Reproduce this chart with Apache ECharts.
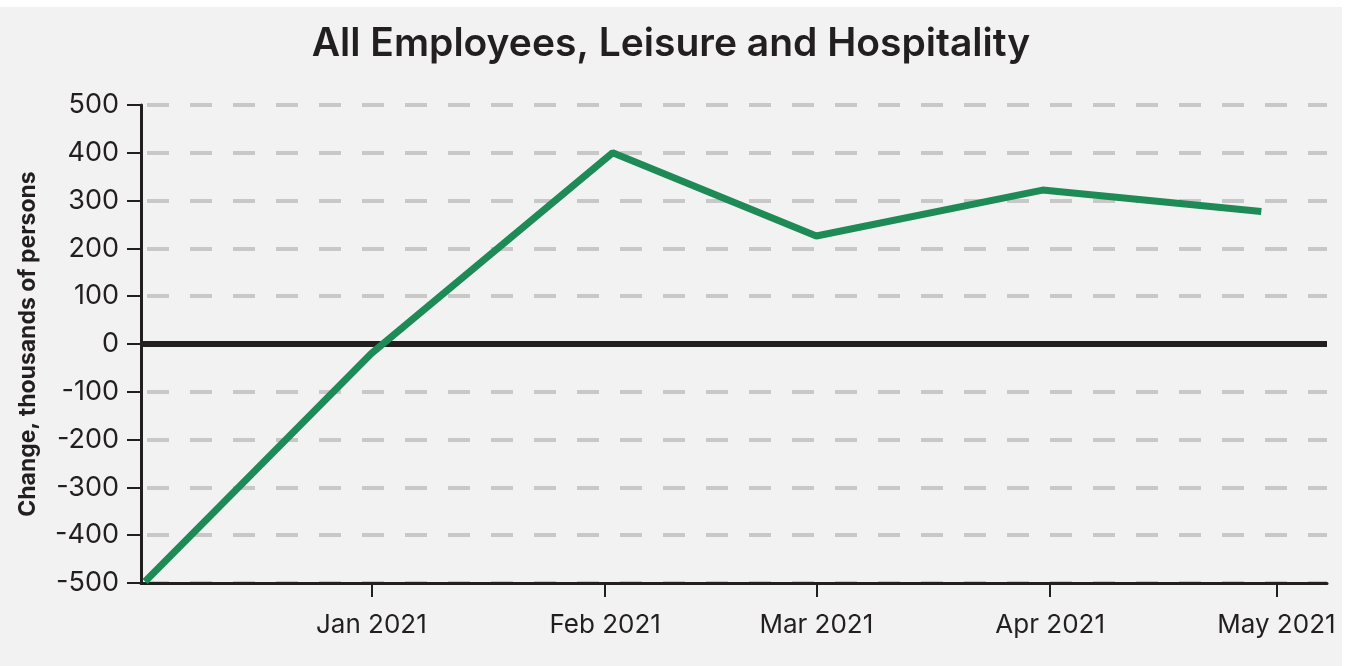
<!DOCTYPE html>
<html>
<head>
<meta charset="utf-8">
<script src="https://cdn.jsdelivr.net/npm/echarts@6/dist/echarts.min.js"></script>
<style>
    html, body { margin: 0; padding: 0; background: #ffffff; }
    #chart { position: absolute; left: 0; top: 7px; width: 1342px; height: 659px; }
</style>
</head>
<body>
<div id="chart"></div>
<script>
// dates of the points
var dates = ['2020-12-02', '2021-01-01', '2021-02-02', '2021-03-01', '2021-03-31', '2021-04-29'];
// change, thousands of persons
var values = [-497, -20, 400, 226, 322, 277];
var yTicks = [-500, -400, -300, -200, -100, 0, 100, 200, 300, 400, 500];
var monthNames = ['Jan', 'Feb', 'Mar', 'Apr', 'May', 'Jun', 'Jul', 'Aug', 'Sep', 'Oct', 'Nov', 'Dec'];

var seriesData = [];
for (var i = 0; i < dates.length; i++) {
    seriesData.push([dates[i], values[i]]);
}

var font = 'Inter, "Noto Sans", sans-serif';
var my_chart = echarts.init(document.getElementById('chart'));

var option = {
    backgroundColor: '#f2f2f2',
    animation: false,
    title: {
        text: 'All Employees, Leisure and Hospitality',
        left: 'center',
        top: 13,
        textStyle: {
            fontFamily: font,
            fontSize: 39,
            fontWeight: 600,
            color: '#231f20'
        }
    },
    grid: {
        left: 141,
        right: 15,
        top: 98,
        bottom: 83,
        containLabel: false
    },
    xAxis: {
        type: 'time',
        min: '2020-12-01T11:00:00',
        max: '2021-05-07T17:00:00',
        splitNumber: 5,
        axisLine: { onZero: false, lineStyle: { color: '#231f20', width: 3 } },
        axisTick: { show: true, length: 14, lineStyle: { color: '#231f20', width: 2 } },
        axisLabel: {
            fontFamily: font,
            fontSize: 26,
            color: '#231f20',
            margin: 29,
            formatter: function (val) {
                var d = new Date(val);
                return monthNames[d.getMonth()] + ' ' + d.getFullYear();
            }
        },
        splitLine: { show: false }
    },
    yAxis: {
        type: 'value',
        min: yTicks[0],
        max: yTicks[yTicks.length - 1],
        interval: 100,
        name: 'Change, thousands of persons',
        nameLocation: 'middle',
        nameGap: 101,
        nameTextStyle: {
            fontFamily: font,
            fontSize: 23,
            fontWeight: 'bold',
            color: '#231f20'
        },
        axisLine: { show: true, lineStyle: { color: '#231f20', width: 3 } },
        axisTick: { show: true, length: 14, lineStyle: { color: '#231f20', width: 2 } },
        axisLabel: {
            fontFamily: font,
            fontSize: 27,
            color: '#231f20',
            margin: 22
        },
        splitLine: {
            show: true,
            lineStyle: {
                color: '#c8c8c8',
                width: 4,
                type: [22, 21],
                dashOffset: -6
            }
        }
    },
    series: [{
        type: 'line',
        data: seriesData,
        showSymbol: false,
        lineStyle: { color: '#1e8a55', width: 7 },
        z: 3,
        markLine: {
            silent: true,
            symbol: 'none',
            label: { show: false },
            lineStyle: { color: '#231f20', width: 6, type: 'solid' },
            data: [{ yAxis: 0 }],
            z: 2
        }
    }]
};

my_chart.setOption(option);
</script>
</body>
</html>
